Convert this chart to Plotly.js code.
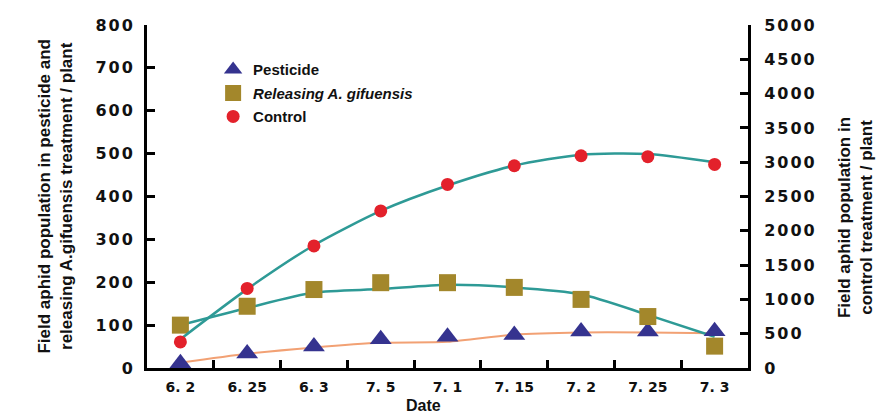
<!DOCTYPE html>
<html>
<head>
<meta charset="utf-8">
<script src="https://cdn.plot.ly/plotly-3.0.1.min.js"></script>
<style>
  html, body { margin: 0; padding: 0; background: #fff; }
  #chart { width: 888px; height: 420px; }
  .ytick text, .y2tick text { letter-spacing: 2px; }
</style>
</head>
<body>
<div id="chart"></div>
<script>
// Categories (dates)
const dates = ["6. 2", "6. 25", "6. 3", "7. 5", "7. 1", "7. 15", "7. 2", "7. 25", "7. 3"];

// Observed points
const pesticide = [11, 34, 50, 67, 73, 77, 85, 85, 86];          // left axis
const releasing = [100, 144, 183, 199, 199, 188, 160, 120, 51];  // left axis
const control   = [380, 1160, 1780, 2290, 2676, 2948, 3094, 3080, 2968]; // right axis

// Fitted curves as drawn
const pesticideFit = [12, 33, 48, 59, 61, 78, 83, 83, 81];
const releasingFit = [100, 140, 176, 184, 194, 188, 172, 124, 73];
const controlFit   = [420, 1150, 1790, 2290, 2660, 2950, 3110, 3120, 3000];

// Labels
const legendNames = ["Pesticide", "<i>Releasing A. gifuensis</i>", "Control"];
const leftTitle = "Field aphid population in pesticide and<br>releasing A.gifuensis treatment / plant";
const rightTitle = "Field aphid population in<br>control treatment / plant";
const xTitle = "Date";

const teal = "#2e9a96", orange = "#f2a174";

const traces = [
  {x: dates, y: pesticideFit, type: "scatter", mode: "lines", yaxis: "y",
   line: {color: orange, width: 2, shape: "spline", smoothing: 0.7}, showlegend: false, hoverinfo: "skip"},
  {x: dates, y: releasingFit, type: "scatter", mode: "lines", yaxis: "y",
   line: {color: teal, width: 2.5, shape: "spline", smoothing: 0.7}, showlegend: false, hoverinfo: "skip"},
  {x: dates, y: controlFit, type: "scatter", mode: "lines", yaxis: "y2",
   line: {color: teal, width: 2.5, shape: "spline", smoothing: 0.7}, showlegend: false, hoverinfo: "skip"},
  {x: dates, y: pesticide, type: "scatter", mode: "markers", yaxis: "y", name: legendNames[0], legendgroup: "a",
   marker: {symbol: "triangle-up", size: 19, color: "#35338f"}},
  {x: dates, y: releasing, type: "scatter", mode: "markers", yaxis: "y", name: legendNames[1], legendgroup: "b",
   marker: {symbol: "square", size: 17, color: "#a3872b"}},
  {x: dates, y: control, type: "scatter", mode: "markers", yaxis: "y2", name: legendNames[2], legendgroup: "c",
   marker: {symbol: "circle", size: 13, color: "#e3212b"}}
];

const tickFont = {family: "DejaVu Sans, sans-serif", size: 16, color: "#111", weight: "bold"};

const layout = {
  width: 888, height: 420,
  margin: {l: 147, r: 140, t: 25, b: 52, pad: 0},
  paper_bgcolor: "#fff", plot_bgcolor: "#fff",
  showlegend: true,
  legend: {x: 0.11, y: 0.918, xanchor: "left", yanchor: "top", bgcolor: "rgba(0,0,0,0)",
           font: {family: "Liberation Sans, Arial, sans-serif", size: 15, color: "#111", weight: "bold"},
           tracegroupgap: 1, itemwidth: 30},
  xaxis: {type: "category", range: [-0.5, 8.5], showgrid: false, zeroline: false,
          showline: true, linecolor: "#000", linewidth: 3,
          ticks: "inside", tickson: "boundaries", ticklen: 8, tickwidth: 3, tickcolor: "#000",
          tickfont: {family: "DejaVu Sans, sans-serif", size: 14, color: "#111", weight: "bold"},
          ticklabelstandoff: 4, fixedrange: true},
  yaxis: {range: [0, 800], dtick: 100, showgrid: false, zeroline: false,
          showline: true, linecolor: "#000", linewidth: 3,
          ticks: "inside", ticklen: 8, tickwidth: 3, tickcolor: "#000",
          tickfont: tickFont, ticklabelstandoff: 6, fixedrange: true},
  yaxis2: {range: [0, 5000], dtick: 500, overlaying: "y", side: "right", showgrid: false, zeroline: false,
           showline: true, linecolor: "#000", linewidth: 3,
           ticks: "inside", ticklen: 8, tickwidth: 3, tickcolor: "#000",
           tickfont: tickFont, ticklabelstandoff: 10, fixedrange: true},
  annotations: [
    {text: leftTitle, xref: "paper", yref: "paper", x: -0.153, y: 0.5, xanchor: "center", yanchor: "middle",
     textangle: -90, showarrow: false, align: "center",
     font: {family: "Liberation Sans, Arial, sans-serif", size: 17, color: "#111", weight: "bold"}},
    {text: rightTitle, xref: "paper", yref: "paper", x: 1.178, y: 0.44, xanchor: "center", yanchor: "middle",
     textangle: -90, showarrow: false, align: "center",
     font: {family: "Liberation Sans, Arial, sans-serif", size: 17, color: "#111", weight: "bold"}},
    {text: xTitle, xref: "paper", yref: "paper", x: 0.46, y: -0.11, xanchor: "center", yanchor: "middle",
     showarrow: false,
     font: {family: "Liberation Sans, Arial, sans-serif", size: 16, color: "#111", weight: "bold"}}
  ]
};

Plotly.newPlot("chart", traces, layout, {staticPlot: true, displayModeBar: false});
</script>
</body>
</html>
